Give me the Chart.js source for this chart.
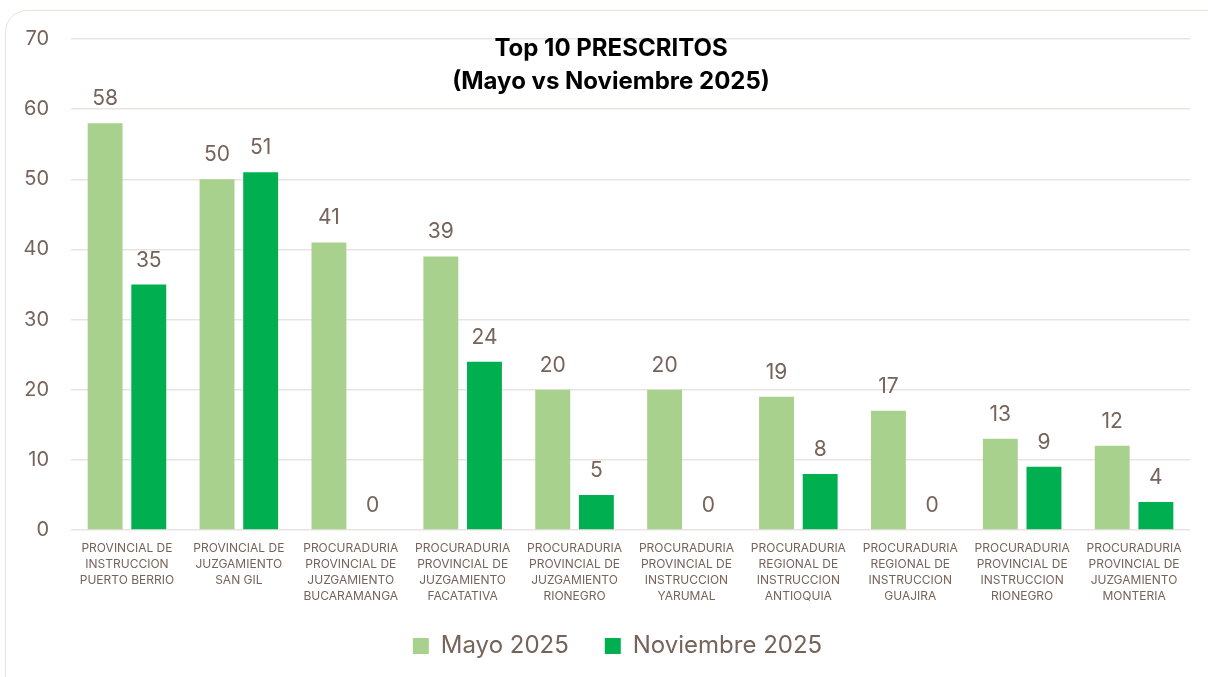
<!DOCTYPE html>
<html>
<head>
<meta charset="utf-8">
<script src="https://cdn.jsdelivr.net/npm/chart.js@4.4.1/dist/chart.umd.min.js"></script>
<style>
  html, body { margin: 0; padding: 0; background: #ffffff; overflow: hidden; }
  #card {
    position: absolute; left: 5px; top: 10px; width: 1230px; height: 700px;
    border: 1.5px solid #e8e2de; border-radius: 22px; background: #fff;
  }
  #wrap { position: absolute; left: 0; top: 0; width: 1208px; height: 677px; }
</style>
</head>
<body>
<div id="card"></div>
<div id="wrap"><canvas id="prescritosChart"></canvas></div>
<script>
const categories = [
  ["PROVINCIAL DE", "INSTRUCCION", "PUERTO BERRIO"],
  ["PROVINCIAL DE", "JUZGAMIENTO", "SAN GIL"],
  ["PROCURADURIA", "PROVINCIAL DE", "JUZGAMIENTO", "BUCARAMANGA"],
  ["PROCURADURIA", "PROVINCIAL DE", "JUZGAMIENTO", "FACATATIVA"],
  ["PROCURADURIA", "PROVINCIAL DE", "JUZGAMIENTO", "RIONEGRO"],
  ["PROCURADURIA", "PROVINCIAL DE", "INSTRUCCION", "YARUMAL"],
  ["PROCURADURIA", "REGIONAL DE", "INSTRUCCION", "ANTIOQUIA"],
  ["PROCURADURIA", "REGIONAL DE", "INSTRUCCION", "GUAJIRA"],
  ["PROCURADURIA", "PROVINCIAL DE", "INSTRUCCION", "RIONEGRO"],
  ["PROCURADURIA", "PROVINCIAL DE", "JUZGAMIENTO", "MONTERIA"]
];
const mayo2025 = [58, 50, 41, 39, 20, 20, 19, 17, 13, 12];
const noviembre2025 = [35, 51, 0, 24, 5, 0, 8, 0, 9, 4];
const titleLines = ["Top 10 PRESCRITOS", "(Mayo vs Noviembre 2025)"];

const textColor = "#76635a";

// value labels above bars + title inside plot area
const labelsPlugin = {
  id: "labelsPlugin",
  afterLayout(chart) {
    // nudge legend to sit like the original
    const lg = chart.legend;
    lg.left += 45;
    lg.top -= 9;
    lg.bottom -= 9;
  },
  afterDatasetsDraw(chart) {
    const ctx = chart.ctx;
    ctx.save();
    ctx.fillStyle = textColor;
    ctx.font = "21px Inter";
    ctx.textAlign = "center";
    ctx.textBaseline = "alphabetic";
    chart.data.datasets.forEach((ds, i) => {
      chart.getDatasetMeta(i).data.forEach((bar, j) => {
        ctx.fillText(ds.data[j], bar.x, bar.y - 18);
      });
    });
    ctx.fillStyle = "#000";
    ctx.font = "bold 24px Inter";
    ctx.fillText(titleLines[0], 611, 56);
    ctx.fillText(titleLines[1], 611, 89);
    ctx.restore();
  }
};

new Chart(document.getElementById("prescritosChart"), {
  type: "bar",
  data: {
    labels: categories,
    datasets: [{
      label: "Mayo 2025",
      backgroundColor: "#a9d18e",
      data: mayo2025,
      categoryPercentage: 0.78,
      barPercentage: 0.8
    }, {
      label: "Noviembre 2025",
      backgroundColor: "#00b050",
      data: noviembre2025,
      categoryPercentage: 0.78,
      barPercentage: 0.8
    }]
  },
  options: {
    responsive: true,
    maintainAspectRatio: false,
    animation: false,
    layout: { padding: { top: 39, right: 18, left: 0, bottom: 0 } },
    plugins: {
      title: { display: false },
      tooltip: { enabled: false },
      legend: {
        position: "bottom",
        labels: {
          color: textColor,
          font: { family: "Inter", size: 24 },
          boxWidth: 16,
          boxHeight: 16,
          padding: 36
        }
      }
    },
    scales: {
      x: {
        grid: { display: false, drawTicks: false },
        border: { display: false },
        ticks: {
          color: textColor,
          font: { family: "Inter", size: 12, lineHeight: 1.35 },
          maxRotation: 0,
          autoSkip: false,
          padding: 10
        },
        afterFit(scale) { scale.height = 77; }
      },
      y: {
        min: 0,
        max: 70,
        ticks: {
          stepSize: 10,
          color: textColor,
          font: { family: "Inter", size: 20 },
          padding: 22
        },
        grid: { color: "#e9e4e1", lineWidth: 1.5, drawTicks: false },
        border: { display: false },
        afterFit(scale) { scale.width = 71; }
      }
    }
  },
  plugins: [labelsPlugin]
});
</script>
</body>
</html>
